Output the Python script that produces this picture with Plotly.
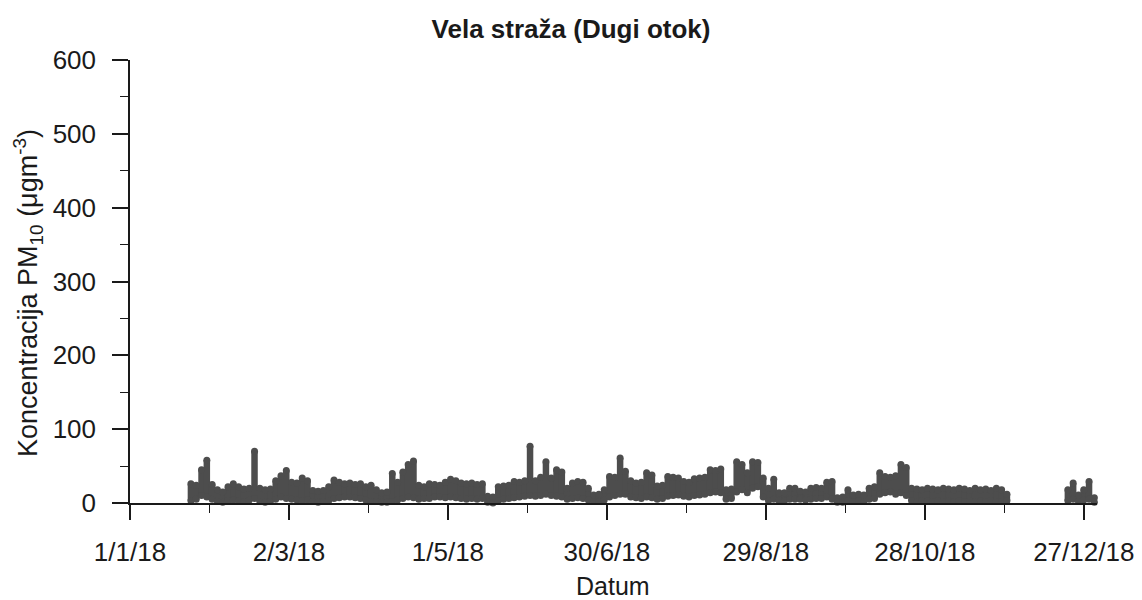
import pandas as pd
import plotly.graph_objects as go

# ---------------- data ----------------
# 2-day bins, PM10 concentration (ug/m3): lower and upper edge of the hourly cloud
seg1_first_center = "2018-01-24"
seg1_high = [26, 24, 45, 58, 25, 18, 15, 22, 26, 22,
             19, 20, 70, 20, 18, 19, 30, 37, 44, 28,
             27, 34, 30, 17, 16, 17, 22, 31, 28, 26,
             27, 25, 26, 22, 24, 18, 14, 15, 40, 28,
             42, 52, 57, 24, 22, 26, 25, 24, 28, 32,
             30, 27, 26, 27, 25, 26, 9, 8, 22, 23,
             24, 29, 28, 30, 77, 30, 35, 56, 34, 45,
             42, 20, 27, 29, 28, 20, 11, 12, 18, 36,
             35, 61, 43, 30, 27, 28, 41, 38, 23, 24,
             36, 35, 34, 29, 28, 33, 34, 35, 45, 44,
             46, 18, 19, 56, 52, 41, 56, 55, 34, 20,
             32, 14, 14, 20, 20, 16, 15, 20, 21, 20,
             28, 29, 7, 8, 18, 11, 12, 11, 20, 22,
             41, 36, 35, 37, 52, 48, 20, 19, 18, 20,
             19, 18, 20, 19, 18, 20, 19, 17, 20, 18,
             19, 17, 20, 18, 12]
seg1_low = [3, 5, 10, 8, 5, 2, 1, 3, 4, 3,
            2, 4, 6, 2, 1, 2, 5, 8, 6, 5,
            4, 3, 4, 2, 1, 2, 3, 6, 7, 8,
            8, 7, 6, 4, 2, 2, 1, 1, 2, 4,
            6, 8, 7, 5, 6, 6, 8, 8, 7, 8,
            7, 6, 5, 6, 5, 6, 1, 0, 3, 5,
            6, 7, 8, 9, 10, 9, 10, 12, 10, 9,
            8, 5, 6, 7, 6, 4, 2, 2, 4, 8,
            10, 12, 12, 8, 7, 6, 8, 7, 5, 6,
            9, 10, 11, 9, 8, 10, 11, 12, 14, 15,
            14, 5, 6, 15, 18, 14, 20, 22, 8, 3,
            5, 3, 3, 5, 5, 5, 4, 5, 6, 6,
            8, 5, 1, 1, 3, 2, 3, 2, 5, 6,
            12, 14, 15, 12, 14, 10, 3, 2, 3, 3,
            2, 3, 2, 3, 2, 3, 2, 3, 2, 3,
            2, 3, 2, 2, 3]
seg2_first_center = "2018-12-21"
seg2_high = [18, 27, 11, 18, 29, 7]
seg2_low = [3, 5, 2, 4, 5, 1]

x_tick_dates = ["2018-01-01", "2018-03-02", "2018-05-01", "2018-06-30",
                "2018-08-29", "2018-10-28", "2018-12-27"]
x_tick_labels = ["1/1/18", "2/3/18", "1/5/18", "30/6/18",
                 "29/8/18", "28/10/18", "27/12/18"]
y_tick_values = [0, 100, 200, 300, 400, 500, 600]

# ---------------- build traces ----------------
c1 = pd.date_range(seg1_first_center, periods=len(seg1_high), freq="2D")
c2 = pd.date_range(seg2_first_center, periods=len(seg2_high), freq="2D")
centers = list(c1) + list(c2)
highs = seg1_high + seg2_high
lows = seg1_low + seg2_low

seg_x, seg_y = [], []
for t, lo, hi in zip(centers, lows, highs):
    seg_x += [t, t, None]
    seg_y += [lo, hi, None]

COL = "#4d4d4d"
AX = "#1a1a1a"
FONT = "Liberation Sans, Arial, sans-serif"

# page body has an 8px margin: figure is offset by (8, 8) in the window
W, H = 1134, 592
OFF = 8

fig = go.Figure()
fig.add_trace(go.Scatter(x=seg_x, y=seg_y, mode="lines",
                         line=dict(color=COL, width=6.5),
                         hoverinfo="skip", showlegend=False))
fig.add_trace(go.Scatter(x=centers + centers, y=highs + lows, mode="markers",
                         marker=dict(color=COL, size=7),
                         showlegend=False, cliponaxis=False))

fig.update_layout(
    width=W, height=H,
    paper_bgcolor="white", plot_bgcolor="white",
    margin=dict(l=130 - OFF, r=W - (1097 - OFF), t=60 - OFF, b=H - (503 - OFF),
                autoexpand=False),
    font=dict(family=FONT, size=26, color=AX),
    title=dict(text="<b>Vela straža (Dugi otok)</b>", x=(571 - OFF) / W, xref="container",
               y=1 - (29 - OFF) / H, yref="container", yanchor="middle", xanchor="center",
               automargin=False,
               font=dict(family=FONT, size=26, color=AX)),
    xaxis=dict(type="date", range=["2018-01-01", "2019-01-01"], automargin=False,
               tickmode="array", tickvals=x_tick_dates, ticktext=x_tick_labels,
               showline=True, linecolor=AX, linewidth=1.5,
               ticks="outside", ticklen=15, tickwidth=1.5, tickcolor=AX,
               ticklabelstandoff=10,
               minor=dict(ticks="outside", ticklen=8, tickwidth=1.3, tickcolor=AX,
                          dtick=30 * 86400000, tick0="2018-01-01", showgrid=False),
               showgrid=False, zeroline=False, tickfont=dict(size=26)),
    yaxis=dict(range=[0, 600], tickmode="array", tickvals=y_tick_values, automargin=False,
               showline=True, linecolor=AX, linewidth=1.5,
               ticks="outside", ticklen=16, tickwidth=1.5, tickcolor=AX,
               ticklabelstandoff=11,
               minor=dict(ticks="outside", ticklen=8, tickwidth=1.3, tickcolor=AX,
                          dtick=50, showgrid=False),
               showgrid=False, zeroline=False, tickfont=dict(size=26)),
    annotations=[
        dict(text="Koncentracija PM<sub>10</sub> (μgm<sup>-3</sup>)",
             textangle=-90, xref="paper", yref="paper",
             x=(28 - 130) / 967, y=(503 - 293) / 443, xanchor="center", yanchor="middle",
             showarrow=False, font=dict(family=FONT, size=27, color=AX)),
        dict(text="Datum", xref="paper", yref="paper",
             x=(613 - 130) / 967, y=(503 - 586) / 443, xanchor="center", yanchor="middle",
             showarrow=False, font=dict(family=FONT, size=25, color=AX)),
    ],
)

fig.write_html("out.html")
